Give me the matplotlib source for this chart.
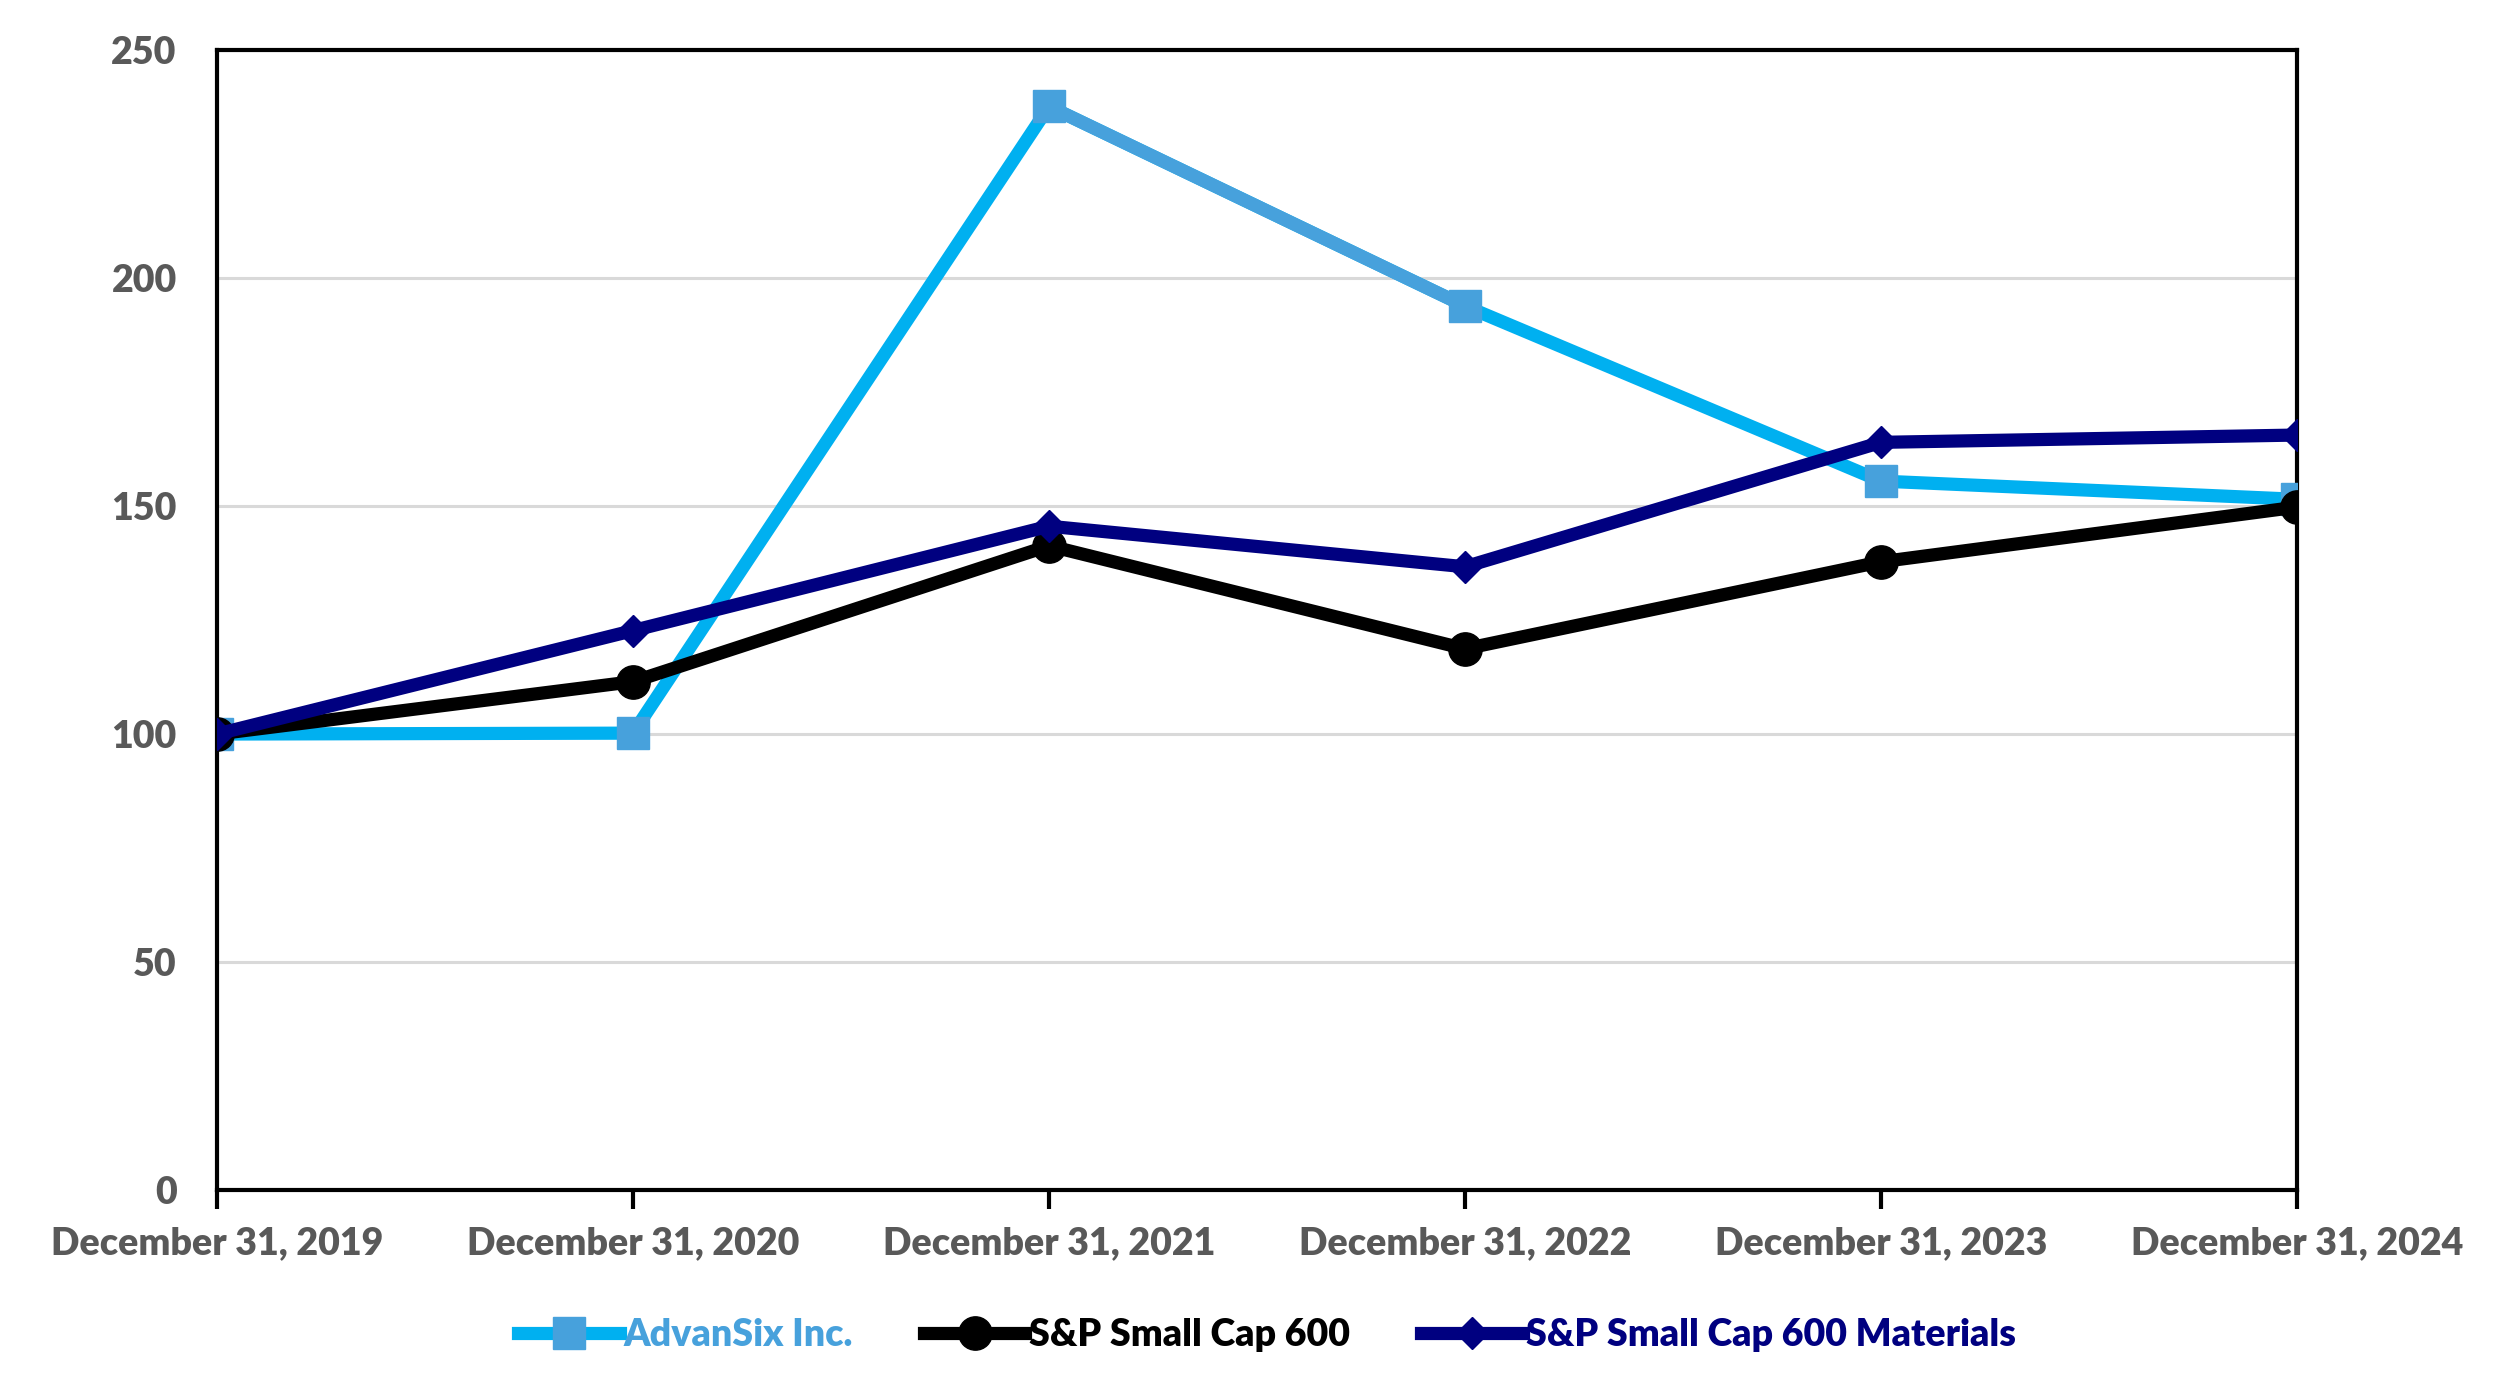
import matplotlib.pyplot as plt
import matplotlib.ticker as ticker
import numpy as np

dates = ["December 31, 2019", "December 31, 2020", "December 31, 2021",
         "December 31, 2022", "December 31, 2023", "December 31, 2024"]
advansix = [100, 100.2, 237.7, 193.9, 155.5, 151.5]
sp600 = [100, 111.5, 141.3, 118.7, 137.8, 149.8]
sp600_mat = [100, 122.7, 145.6, 136.7, 164.0, 165.6]
y_ticks = [0, 50, 100, 150, 200, 250]

plt.rcParams["font.family"] = ["Lato", "DejaVu Sans"]
plt.rcParams["font.weight"] = "heavy"

fig = plt.figure(figsize=(25.14, 13.99), dpi=100)
ax = fig.add_axes([0.0863, 0.1495, 0.8274, 0.8145])

x = np.arange(len(dates))
ax.plot(x, advansix, color="#00B0F0", lw=9.5, marker="s", ms=23,
        mfc="#47A1DC", mec="#47A1DC", label="AdvanSix Inc.", zorder=3)
# the 2021-2022 segment takes the marker colour in the original
ax.plot(x[2:4], advansix[2:4], color="#47A1DC", lw=9.5, zorder=3)
ax.plot(x, sp600, color="black", lw=9.5, marker="o", ms=24,
        label="S&P Small Cap 600", zorder=4)
ax.plot(x, sp600_mat, color="#000080", lw=9.5, marker="D", ms=16,
        label="S&P Small Cap 600 Materials", zorder=5)

ax.set_xlim(x[0], x[-1])
ax.set_ylim(0, 250)
ax.set_xticks(x)
ax.set_xticklabels(dates)
ax.set_yticks(y_ticks)
ax.yaxis.set_major_formatter(ticker.FormatStrFormatter("%d"))

ax.grid(axis="y", color="#D9D9D9", lw=2.2)
ax.set_axisbelow(True)
for s in ax.spines.values():
    s.set_color("black")
    s.set_linewidth(3)

ax.tick_params(axis="x", direction="out", length=14, width=3, color="black",
               labelsize=27, labelcolor="#595959", pad=12)
ax.tick_params(axis="y", length=0, labelsize=27, labelcolor="#595959", pad=29)
for lab in ax.get_xticklabels() + ax.get_yticklabels():
    lab.set_fontweight("heavy")

leg = ax.legend(loc="upper center", bbox_to_anchor=(0.505, -0.083), ncol=3,
                frameon=False, fontsize=27, handlelength=2.7, handletextpad=0.1,
                columnspacing=1.9)
for txt, c in zip(leg.get_texts(), ["#47A1DC", "black", "#000080"]):
    txt.set_color(c)
    txt.set_fontweight("heavy")

fig.savefig("out.png", dpi=100)
